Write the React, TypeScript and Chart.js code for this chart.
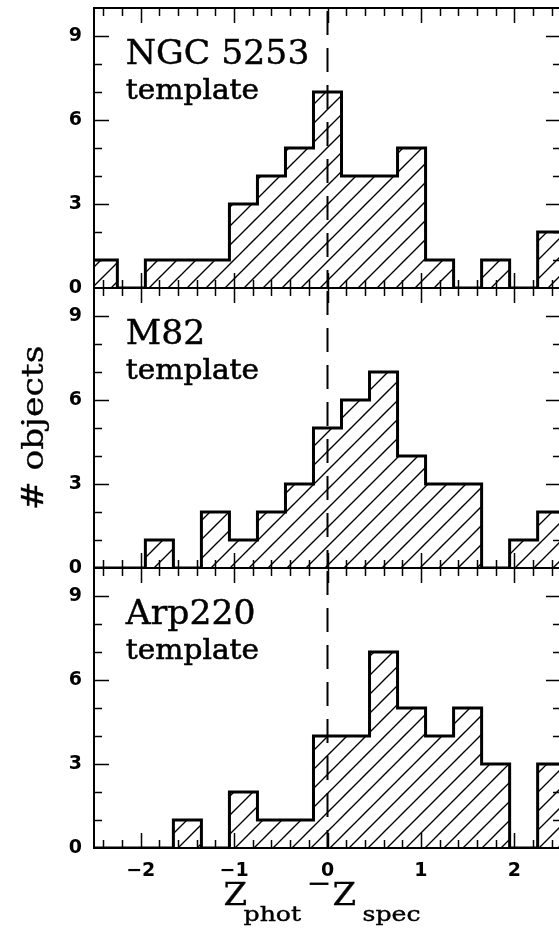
import React, { useEffect, useRef } from "react";
import { Chart, registerables } from "chart.js";
Chart.register(...registerables);

// ---- data ----
const BIN_EDGES = [-2.55, -2.25, -1.95, -1.65, -1.35, -1.05, -0.75, -0.45, -0.15, 0.15, 0.45, 0.75, 1.05, 1.35, 1.65, 1.95, 2.25, 2.55];
const NGC5253_COUNTS = [1, 0, 1, 1, 1, 3, 4, 5, 7, 4, 4, 5, 1, 0, 1, 0, 2];
const M82_COUNTS = [0, 0, 1, 0, 2, 1, 2, 3, 5, 6, 7, 4, 3, 3, 0, 1, 2];
const ARP220_COUNTS = [0, 0, 0, 1, 0, 2, 1, 1, 4, 4, 7, 5, 4, 5, 3, 0, 3];
const PANEL_NAMES = ["NGC 5253", "M82", "Arp220"];
const PANEL_SUBTITLE = "template";
const X_TICKS = [-2, -1, 0, 1, 2];
const Y_TICKS = [0, 3, 6, 9];
const X_MIN = -2.5;
const X_MAX = 2.5;
const Y_MIN = 0;
const Y_MAX = 10;
const Y_TITLE = "# objects";

const CANVAS_W = 600;
const CANVAS_H = 938;

function toPoints(counts: number[]) {
  return BIN_EDGES.map((e, i) => ({ x: e, y: counts[Math.min(i, counts.length - 1)] }));
}

function makeHatch(ctx: CanvasRenderingContext2D) {
  const s = 19;
  const c = document.createElement("canvas");
  c.width = s;
  c.height = s;
  const g = c.getContext("2d")!;
  g.strokeStyle = "#000";
  g.lineWidth = 1.4;
  g.beginPath();
  g.moveTo(-2, s + 2);
  g.lineTo(s + 2, -2);
  g.moveTo(-2, 2);
  g.lineTo(2, -2);
  g.moveTo(s - 2, s + 2);
  g.lineTo(s + 2, s - 2);
  g.stroke();
  return ctx.createPattern(c, "repeat");
}

function stretchText(
  ctx: CanvasRenderingContext2D,
  text: string,
  x: number,
  y: number,
  font: string,
  sx: number,
  align: "left" | "center" | "right" = "left",
  stroke = 0
) {
  ctx.save();
  ctx.font = font;
  ctx.fillStyle = "#000";
  ctx.strokeStyle = "#000";
  ctx.textBaseline = "alphabetic";
  ctx.textAlign = "left";
  const w = ctx.measureText(text).width * sx;
  const x0 = align === "center" ? x - w / 2 : align === "right" ? x - w : x;
  ctx.translate(x0, y);
  ctx.scale(sx, 1);
  ctx.fillText(text, 0, 0);
  if (stroke > 0) {
    ctx.lineWidth = stroke;
    ctx.strokeText(text, 0, 0);
  }
  ctx.restore();
  return w;
}

const fmtNum = (v: number) => (v < 0 ? "\u2212" + Math.abs(v) : String(v));

const PANEL_IDS = ["yA", "yB", "yC"];

const framePlugin = {
  id: "frameTicks",
  beforeDatasetsDraw(chart: any) {
    const ctx = chart.ctx as CanvasRenderingContext2D;
    const xs = chart.scales.x;
    const x0 = xs.getPixelForValue(0);
    ctx.save();
    ctx.strokeStyle = "#000";
    ctx.lineWidth = 2;
    ctx.setLineDash([24, 13]);
    PANEL_IDS.forEach((id) => {
      const ys = chart.scales[id];
      ctx.lineDashOffset = 34;
      ctx.beginPath();
      ctx.moveTo(x0, ys.top);
      ctx.lineTo(x0, ys.bottom);
      ctx.stroke();
    });
    ctx.restore();
  },
  afterDatasetsDraw(chart: any) {
    const ctx = chart.ctx as CanvasRenderingContext2D;
    const xs = chart.scales.x;
    const { left, right } = chart.chartArea;
    ctx.save();
    ctx.strokeStyle = "#000";
    ctx.lineCap = "butt";
    ctx.lineWidth = 2;
    PANEL_IDS.forEach((id) => {
      const ys = chart.scales[id];
      ctx.strokeRect(left, ys.top, right - left, ys.bottom - ys.top);
    });
    ctx.lineWidth = 1.5;
    PANEL_IDS.forEach((id) => {
      const ys = chart.scales[id];
      const T = ys.top;
      const B = ys.bottom;
      ctx.beginPath();
      for (let k = -12; k <= 12; k++) {
        const v = k / 5;
        const px = Math.round(xs.getPixelForValue(v)) + 0.5;
        const len = k % 5 === 0 ? 15 : 8;
        ctx.moveTo(px, B);
        ctx.lineTo(px, B - len);
        ctx.moveTo(px, T);
        ctx.lineTo(px, T + len);
      }
      for (let v = 1; v <= 9; v++) {
        const py = Math.round(ys.getPixelForValue(v)) + 0.5;
        const len = v % 3 === 0 ? 15 : 8;
        ctx.moveTo(left, py);
        ctx.lineTo(left + len, py);
        ctx.moveTo(right, py);
        ctx.lineTo(right - len, py);
      }
      ctx.stroke();
    });
    ctx.restore();
  },
  afterDraw(chart: any) {
    const ctx = chart.ctx as CanvasRenderingContext2D;
    const xs = chart.scales.x;
    PANEL_IDS.forEach((id, i) => {
      const ys = chart.scales[id];
      const lx = xs.getPixelForValue(-2.16);
      stretchText(ctx, PANEL_NAMES[i], lx, ys.getPixelForValue(8.0), '33px "DejaVu Serif"', 1.05, "left", 0.4);
      stretchText(ctx, PANEL_SUBTITLE, lx, ys.getPixelForValue(6.75), '28px "DejaVu Serif"', 1.06, "left", 0.6);
    });
    const yTop = chart.scales.yA.top;
    const yBot = chart.scales.yC.bottom;
    ctx.save();
    ctx.translate(43, (yTop + yBot) / 2);
    ctx.rotate(-Math.PI / 2);
    stretchText(ctx, Y_TITLE, 0, 0, '30px "DejaVu Serif"', 1.15, "center", 0.3);
    ctx.restore();
    const cx = xs.getPixelForValue(0);
    const base = 905;
    const sub = 921;
    stretchText(ctx, "Z", cx - 104, base, '31px "DejaVu Serif"', 1.1, "left", 0.3);
    stretchText(ctx, "phot", cx - 84, sub, '21px "DejaVu Serif"', 1.2, "left", 0.4);
    stretchText(ctx, "\u2212", cx - 21, base - 12, '30px "DejaVu Serif"', 1.0);
    stretchText(ctx, "Z", cx + 5, base, '31px "DejaVu Serif"', 1.1, "left", 0.3);
    stretchText(ctx, "spec", cx + 35, sub, '21px "DejaVu Serif"', 1.2, "left", 0.4);
  },
};

export default function App() {
  const ref = useRef<HTMLCanvasElement | null>(null);
  useEffect(() => {
    const canvas = ref.current!;
    const ctx = canvas.getContext("2d")!;
    const hatch = makeHatch(ctx);
    const ds = (counts: number[], yAxisID: string) => ({
      data: toPoints(counts),
      yAxisID,
      stepped: "before" as const,
      borderColor: "#000",
      borderWidth: 3,
      borderJoinStyle: "miter" as const,
      fill: "origin",
      backgroundColor: hatch,
      pointRadius: 0,
      tension: 0,
    });
    const yBase = () => ({
      type: "linear" as const,
      position: "left" as const,
      stack: "panels",
      stackWeight: 1,
      min: Y_MIN,
      max: Y_MAX,
      afterBuildTicks: (s: any) => {
        s.ticks = Y_TICKS.map((v) => ({ value: v }));
      },
      afterFit: (s: any) => {
        s.width = 94;
        s.paddingTop = 0;
        s.paddingBottom = 0;
      },
      ticks: {
        color: "#000",
        padding: 12,
        font: { family: "DejaVu Sans", weight: "bold" as const, size: 19 },
        callback: (v: any) => fmtNum(Number(v)),
      },
      grid: { display: false, drawTicks: false },
      border: { display: false },
    });
    const chart = new Chart(canvas, {
      type: "line",
      data: {
        datasets: [ds(NGC5253_COUNTS, "yA"), ds(M82_COUNTS, "yB"), ds(ARP220_COUNTS, "yC")],
      },
      options: {
        animation: false,
        responsive: false,
        devicePixelRatio: 1,
        layout: { padding: { left: 0, top: 8, right: CANVAS_W - 561, bottom: 0 } },
        plugins: { legend: { display: false }, tooltip: { enabled: false } },
        scales: {
          x: {
            type: "linear",
            position: "bottom",
            min: X_MIN,
            max: X_MAX,
            afterBuildTicks: (s: any) => {
              s.ticks = X_TICKS.map((v) => ({ value: v }));
            },
            afterFit: (s: any) => {
              s.height = 90;
              s.paddingLeft = 0;
              s.paddingRight = 0;
            },
            ticks: {
              color: "#000",
              padding: 12,
              maxRotation: 0,
              font: { family: "DejaVu Sans", weight: "bold", size: 19 },
              callback: (v: any) => fmtNum(Number(v)),
            },
            grid: { display: false, drawTicks: false },
            border: { display: false },
          },
          yC: yBase(),
          yB: yBase(),
          yA: yBase(),
        } as any,
      },
      plugins: [framePlugin],
    } as any);
    return () => chart.destroy();
  }, []);
  return (
    <div style={{ position: "absolute", left: 0, top: 0, width: 559, height: 938, overflow: "hidden", background: "#fff" }}>
      <canvas ref={ref} width={CANVAS_W} height={CANVAS_H} style={{ width: CANVAS_W, height: CANVAS_H, display: "block" }} />
    </div>
  );
}
